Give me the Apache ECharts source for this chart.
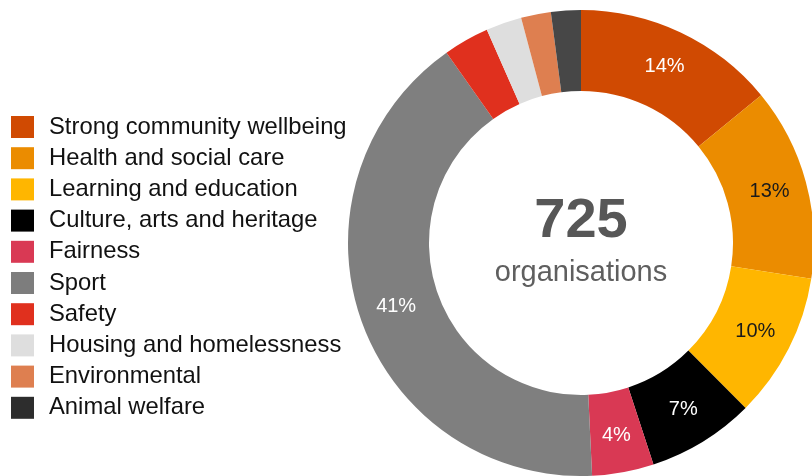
<!DOCTYPE html>
<html>
<head>
<meta charset="utf-8">
<script src="https://cdn.jsdelivr.net/npm/echarts@6/dist/echarts.min.js"></script>
<style>
  html, body { margin: 0; padding: 0; background: #fff; }
  #chart { width: 812px; height: 476px; }
</style>
</head>
<body>
<div id="chart"></div>
<script>
// Organisations by cause area
const categories = [
  'Strong community wellbeing',
  'Health and social care',
  'Learning and education',
  'Culture, arts and heritage',
  'Fairness',
  'Sport',
  'Safety',
  'Housing and homelessness',
  'Environmental',
  'Animal welfare'
];
const counts = [102, 97, 73, 54, 31, 297, 23, 18, 15, 15];
const sliceColors = ['#D04A02', '#EB8C00', '#FFB600', '#000000', '#D93954',
                     '#7F7F7F', '#E0301E', '#DEDEDE', '#DE7F50', '#474747'];
const legendColors = ['#D04A02', '#EB8C00', '#FFB600', '#000000', '#D93954',
                      '#7D7D7D', '#E0301E', '#DEDEDE', '#DE7F50', '#2D2D2D'];
const labelColors = ['#ffffff', '#1a1a1a', '#1a1a1a', '#ffffff', '#ffffff',
                     '#ffffff', '#ffffff', '#ffffff', '#ffffff', '#ffffff'];
const centerCaption = 'organisations';

const total = counts.reduce((a, b) => a + b, 0);
const FONT = '"Liberation Sans", Arial, sans-serif';

const chart = echarts.init(document.getElementById('chart'), null, { renderer: 'canvas' });

const seriesData = categories.map((name, i) => ({
  name,
  value: counts[i],
  itemStyle: { color: sliceColors[i] },
  label: { color: labelColors[i] }
}));

chart.setOption({
  animation: false,
  backgroundColor: '#ffffff',
  legend: {
    orient: 'vertical',
    left: 11,
    top: 115,
    padding: 0,
    itemWidth: 23,
    itemHeight: 22,
    itemGap: 7.2,
    icon: 'rect',
    selectedMode: false,
    textStyle: {
      fontFamily: FONT,
      fontSize: 23.8,
      lineHeight: 22,
      color: '#111111',
      padding: [0, 0, 0, 10]
    },
    data: categories.map((name, i) => ({
      name,
      itemStyle: { color: legendColors[i] }
    }))
  },
  graphic: [
    {
      type: 'text',
      x: 581,
      y: 222,
      style: {
        text: String(total),
        fontFamily: FONT,
        fontSize: 56,
        fontWeight: 'bold',
        fill: '#575757',
        align: 'center',
        verticalAlign: 'middle'
      }
    },
    {
      type: 'text',
      x: 581,
      y: 273,
      style: {
        text: centerCaption,
        fontFamily: FONT,
        fontSize: 29,
        fill: '#5f5f5f',
        align: 'center',
        verticalAlign: 'middle'
      }
    }
  ],
  series: [{
    type: 'pie',
    center: [581, 243],
    radius: [152, 233],
    startAngle: 90,
    clockwise: true,
    avoidLabelOverlap: false,
    silent: true,
    label: {
      show: true,
      position: 'inside',
      fontFamily: FONT,
      fontSize: 20,
      formatter: p => (p.percent >= 4 ? Math.round(p.percent) + '%' : '')
    },
    labelLine: { show: false },
    data: seriesData
  }]
});
</script>
</body>
</html>
